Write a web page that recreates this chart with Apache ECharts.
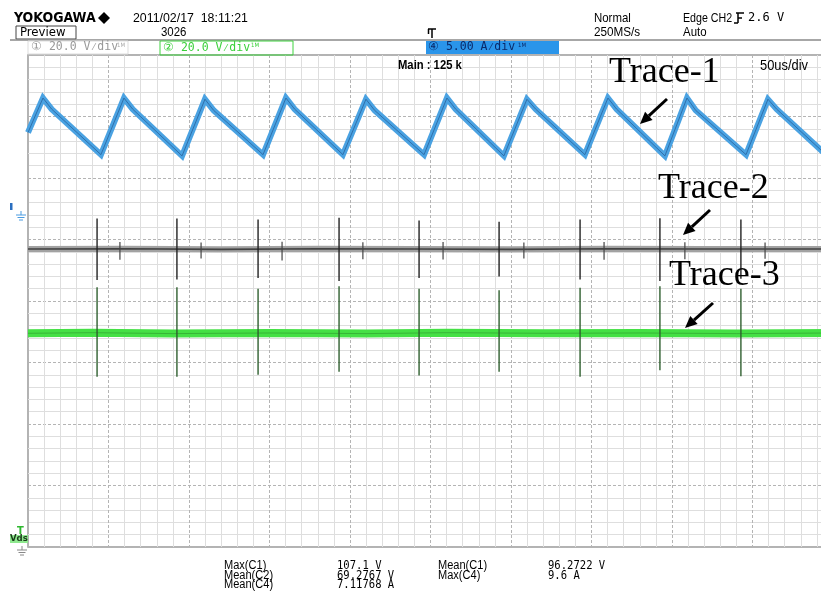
<!DOCTYPE html>
<html><head><meta charset="utf-8">
<script src="https://cdn.jsdelivr.net/npm/echarts@6/dist/echarts.min.js"></script>
<style>html,body{margin:0;padding:0;background:#fff;overflow:hidden}#c{width:840px;height:597px}</style>
</head><body><div id="c"></div>
<script>
// ---- data (time in microseconds, 50 us/div) ----
const xTicks = [0, 50, 100, 150, 200, 250, 300, 350, 400, 450, 500];
// Trace-1 : channel 4 current (A), 5 A/div
const c4Time = [0, 9.3, 14.7, 45.3, 59.6, 65.0, 95.7, 109.9, 115.3, 146.0, 160.2, 165.6, 195.6, 209.9, 215.3, 246.0, 260.2, 265.6, 295.6, 309.9, 315.3, 345.9, 360.2, 365.6, 395.6, 409.3, 414.7, 446.0, 459.6, 465.0, 495.6, 500];
const c4Amps = [6.8, 9.6, 8.7, 5.0, 9.6, 8.7, 4.9, 9.5, 8.6, 5.0, 9.6, 8.7, 5.0, 9.5, 8.6, 5.0, 9.6, 8.7, 4.9, 9.5, 8.7, 5.0, 9.6, 8.7, 4.9, 9.6, 8.6, 5.0, 9.5, 8.7, 5.0, 6.3];
// Trace-2 : channel 1 voltage (V), 20 V/div
const c1Time = [0, 60, 120, 180, 240, 300, 360, 420, 500];
const c1Volts = [96.9, 97.0, 96.8, 97.0, 96.9, 96.8, 97.0, 96.9, 96.9];
// Trace-3 : channel 2 voltage (V), 20 V/div
const c2Time = [0, 40, 90, 150, 210, 260, 320, 380, 440, 500];
const c2Volts = [69.5, 69.7, 69.4, 69.6, 69.4, 69.7, 69.5, 69.6, 69.4, 69.6];
// switching spikes
const spikeTime = [42.9, 92.5, 142.9, 193.2, 242.9, 292.6, 342.9, 392.5, 442.8];
const c1SpikeHi = [106.8, 106.8, 106.5, 107.1, 106.2, 105.8, 106.5, 106.9, 106.5];
const c1SpikeLo = [86.8, 87.0, 87.5, 86.5, 87.5, 88.0, 87.0, 86.5, 87.2];
const c2SpikeHi = [84.5, 84.5, 84.0, 84.8, 84.0, 83.5, 84.3, 84.8, 84.0];
const c2SpikeLo = [55.4, 55.4, 56.0, 57.0, 55.8, 57.0, 55.4, 57.5, 55.5];
const blipTime = [57.1, 107.5, 157.8, 208, 257.8, 308, 357.8, 408, 457.8];
const blipHi = [99.2, 99.0, 99.3, 99.1, 99.2, 99.0, 99.2, 99.1, 99.0];
const blipLo = [93.4, 93.8, 93.2, 93.6, 93.5, 93.8, 93.4, 93.6, 93.7];
// measurements
const measLabels1 = ['Max(C1)', 'Mean(C2)', 'Mean(C4)'];
const measValues1 = ['107.1 V', '69.2767 V', '7.11768 A'];
const measLabels2 = ['Mean(C1)', 'Max(C4)'];
const measValues2 = ['96.2722 V', '9.6 A'];

const zip = (a, b) => a.map((v, i) => [v, b[i]]);
const zip3 = (a, b, c) => a.map((v, i) => [v, b[i], c[i]]);

const SANS = "'Liberation Sans',sans-serif";
const COND = "'DejaVu Sans Condensed','Liberation Sans Narrow','Liberation Sans',sans-serif";
const MONO = "'DejaVu Sans Mono','Liberation Mono',monospace";
const SERIF = "'Liberation Serif','DejaVu Serif',serif";

function spikeSeries(data, color, yIdx, w) {
  return {
    type: 'custom', yAxisIndex: yIdx, z: 5, silent: true,
    encode: { x: 0, y: [1, 2] },
    data: data,
    renderItem: function (params, api) {
      const p1 = api.coord([api.value(0), api.value(1)]);
      const p2 = api.coord([api.value(0), api.value(2)]);
      return { type: 'line', shape: { x1: p1[0], y1: p1[1], x2: p2[0], y2: p2[1] },
        style: { stroke: color, lineWidth: w } };
    }
  };
}

function txt(x, y, text, opt, sx) {
  opt = opt || {};
  return { type: 'text', x: x, y: y, z: 20, scaleX: sx || 1, style: Object.assign({
    text: text, fill: '#000', fontSize: 12, fontFamily: COND,
    verticalAlign: 'middle', align: 'left' }, opt) };
}
function ln(x1, y1, x2, y2, color, w) {
  return { type: 'line', z: 20, shape: { x1, y1, x2, y2 }, style: { stroke: color, lineWidth: w || 1 } };
}
function arrow(x1, y1, x2, y2) {
  const dx = x2 - x1, dy = y2 - y1, L = Math.hypot(dx, dy);
  const ux = dx / L, uy = dy / L, hl = 12, hw = 5.5;
  const bx = x2 - ux * hl, by = y2 - uy * hl;
  return [
    { type: 'line', z: 20, shape: { x1, y1, x2: bx, y2: by }, style: { stroke: '#000', lineWidth: 3 } },
    { type: 'polygon', z: 20, shape: { points: [[x2, y2], [bx - uy * hw, by + ux * hw], [bx + uy * hw, by - ux * hw]] }, style: { fill: '#000' } }
  ];
}
function ground(x, y, color) {
  return [ln(x, y - 4, x, y, color, 1), ln(x - 5, y, x + 5, y, color, 1), ln(x - 3.5, y + 2.5, x + 3.5, y + 2.5, color, 1), ln(x - 2, y + 5, x + 2, y + 5, color, 1)];
}

const graphics = [
  txt(14, 18, 'YOKOGAWA', { fontWeight: 'bold', fontSize: 14 }),
  { type: 'polygon', z: 20, shape: { points: [[104, 12], [110, 18], [104, 24], [98, 18]] }, style: { fill: '#000' } },
  txt(133, 18, '2011/02/17  18:11:21', { fontSize: 13, fontFamily: SANS }, 0.95),
  { type: 'rect', z: 20, shape: { x: 16, y: 26, width: 60, height: 13 }, style: { fill: 'none', stroke: '#444', lineWidth: 1 } },
  txt(20, 32.5, 'Preview', { fontSize: 13 }),
  txt(161, 32.5, '3026', { fontSize: 13, fontFamily: SANS }, 0.88),
  ln(10, 40, 821, 40, '#8a8a8a', 1.5),
  // channel boxes
  { type: 'rect', z: 20, shape: { x: 28, y: 41, width: 100, height: 13 }, style: { fill: 'none', stroke: '#ddd', lineWidth: 1 } },
  txt(31, 47.5, '\u2460 20.0 V\u2044div', { fill: '#999', fontSize: 11.5, fontFamily: MONO }),
  txt(117, 45, '1M', { fill: '#aaa', fontSize: 6 }),
  { type: 'rect', z: 20, shape: { x: 160, y: 41, width: 133, height: 14 }, style: { fill: 'none', stroke: '#3fd33f', lineWidth: 1 } },
  txt(163, 48, '\u2461 20.0 V\u2044div', { fill: '#3ad13a', fontSize: 11.5, fontFamily: MONO }),
  txt(251, 45, '1M', { fill: '#3ad13a', fontSize: 6 }),
  { type: 'rect', z: 20, shape: { x: 426, y: 41, width: 133, height: 13 }, style: { fill: '#2a95ea' } },
  txt(428, 47.5, '\u2463 5.00 A\u2044div', { fill: '#0a2a6a', fontSize: 11.5, fontFamily: MONO }),
  txt(518, 45, '1M', { fill: '#0a2a6a', fontSize: 6 }),
  // trigger mark
  ln(428, 29, 436, 29, '#000', 1.5), ln(432, 29, 432, 38, '#000', 1.5), ln(428.5, 29, 428.5, 34, '#000', 1.5),
  txt(594, 18, 'Normal', { fontSize: 13, fontFamily: SANS }, 0.88),
  txt(594, 32, '250MS/s', { fontSize: 13, fontFamily: SANS }, 0.9),
  txt(683, 18, 'Edge CH2', { fontSize: 13, fontFamily: SANS }, 0.82),
  ln(736, 13, 744, 13, '#000', 1.5), ln(738, 13, 738, 23, '#000', 1.5), ln(738, 18, 742, 18, '#000', 1.5), ln(734, 23, 738, 23, '#000', 1.5),
  txt(748, 18, '2.6 V', { fontSize: 12, fontFamily: MONO }),
  txt(683, 32, 'Auto', { fontSize: 13, fontFamily: SANS }, 0.88),
  // in-plot labels
  txt(398, 66, 'Main : 125 k', { fontSize: 12.5, fontWeight: 'bold', fontFamily: SANS }, 0.9),
  txt(760, 66, '50us/div', { fontSize: 14, fontFamily: SANS }, 0.92),
  txt(609, 73, 'Trace-1', { fontSize: 36, fontFamily: SERIF }),
  txt(658, 189, 'Trace-2', { fontSize: 36, fontFamily: SERIF }),
  txt(669, 276, 'Trace-3', { fontSize: 36, fontFamily: SERIF }),
  ...arrow(667, 99, 640, 124),
  ...arrow(710, 210, 683, 235),
  ...arrow(713, 303, 685, 328),
  // left markers
  { type: 'rect', z: 20, shape: { x: 10, y: 203, width: 2.5, height: 7 }, style: { fill: '#2a6fc0' } },
  ...ground(21, 215, '#4a9be0'),
  txt(17, 531, 'T', { fill: '#2fb82f', fontSize: 11, fontWeight: 'bold' }),
  { type: 'rect', z: 19, shape: { x: 10, y: 535, width: 18, height: 8 }, style: { fill: '#8ee88e' } },
  txt(10, 539, 'Vds', { fill: '#1a3a1a', fontSize: 9.5, fontWeight: 'bold' }),
  ...ground(22, 550, '#888')
];
// measurements
const rowY = [566, 575.5, 585];
measLabels1.forEach((t, i) => graphics.push(txt(224, rowY[i], t, { fontSize: 12, fontFamily: SANS }, 0.92)));
measValues1.forEach((t, i) => graphics.push(txt(337, rowY[i], t, { fontSize: 12, fontFamily: MONO }, 0.88)));
measLabels2.forEach((t, i) => graphics.push(txt(438, rowY[i], t, { fontSize: 12, fontFamily: SANS }, 0.92)));
measValues2.forEach((t, i) => graphics.push(txt(548, rowY[i], t, { fontSize: 12, fontFamily: MONO }, 0.88)));

const chart = echarts.init(document.getElementById('c'), null, { renderer: 'canvas' });
chart.setOption({
  animation: false,
  backgroundColor: '#fff',
  grid: { left: 28, top: 55, width: 805, height: 492, show: true, borderColor: '#9a9a9a', borderWidth: 1.5, backgroundColor: '#fff' },
  xAxis: {
    type: 'value', min: xTicks[0], max: xTicks[xTicks.length - 1], interval: xTicks[1] - xTicks[0],
    axisLabel: { show: false }, axisTick: { show: false },
    axisLine: { show: false },
    splitLine: { show: true, lineStyle: { color: '#b4b4b4', type: [3, 2], width: 1 } },
    minorTick: { show: false, splitNumber: 5 },
    minorSplitLine: { show: true, lineStyle: { color: '#dedede', width: 1 } }
  },
  yAxis: [{
    type: 'value', min: 0, max: 160, interval: 20,
    axisLabel: { show: false }, axisTick: { show: false }, axisLine: { show: false },
    splitLine: { show: true, lineStyle: { color: '#b4b4b4', type: [3, 2], width: 1 } },
    minorTick: { show: false, splitNumber: 5 },
    minorSplitLine: { show: true, lineStyle: { color: '#dedede', width: 1 } }
  }, {
    type: 'value', min: -26.9, max: 13.1, show: false, splitLine: { show: false }
  }],
  series: [
    { type: 'line', yAxisIndex: 1, data: zip(c4Time, c4Amps), symbol: 'none', z: 3,
      lineStyle: { color: '#4aa2e2', width: 6, join: 'miter' } },
    { type: 'line', yAxisIndex: 1, data: zip(c4Time, c4Amps), symbol: 'none', z: 4,
      lineStyle: { color: '#1e4e86', width: 1, opacity: 0.6 } },
    { type: 'line', yAxisIndex: 0, data: zip(c1Time, c1Volts), symbol: 'none', z: 3,
      lineStyle: { color: '#a2a2a2', width: 6 } },
    { type: 'line', yAxisIndex: 0, data: zip(c1Time, c1Volts), symbol: 'none', z: 4,
      lineStyle: { color: '#333', width: 1.6, opacity: 0.85 } },
    { type: 'line', yAxisIndex: 0, data: zip(c2Time, c2Volts), symbol: 'none', z: 3,
      lineStyle: { color: '#45e045', width: 8 } },
    { type: 'line', yAxisIndex: 0, data: zip(c2Time, c2Volts), symbol: 'none', z: 4,
      lineStyle: { color: '#2a8a2a', width: 1, opacity: 0.5 } },
    spikeSeries(zip3(spikeTime, c1SpikeHi, c1SpikeLo), '#222', 0, 1.4),
    spikeSeries(zip3(spikeTime, c2SpikeHi, c2SpikeLo), '#2f5f2f', 0, 1.4),
    spikeSeries(zip3(blipTime, blipHi, blipLo), '#444', 0, 1.2)
  ],
  graphic: graphics
});
</script></body></html>
